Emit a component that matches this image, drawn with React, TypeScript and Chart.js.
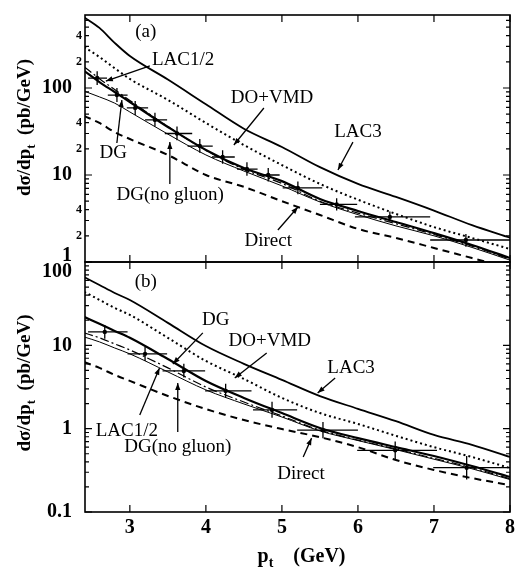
import React, { useEffect, useRef } from 'react';
import { Chart, registerables } from 'chart.js';

Chart.register(...registerables);

const SERIF = '"Liberation Serif", "Times New Roman", "DejaVu Serif", serif';

// ---------- shared x axis ----------
const X_MIN = 2.41;
const X_MAX = 8;
const xTickValues = [3, 4, 5, 6, 7, 8];
const xTickText = ['3', '4', '5', '6', '7', '8'];

// p_t grid at which the curves were read
const curveX = [2.4, 2.6, 2.8, 3.0, 3.5, 4.0, 4.5, 5.0, 5.5, 6.0, 6.5, 7.0, 7.5, 8.0];

// ---------- panel (a) ----------
const A_MIN = 1;
const A_MAX = 690;
const aLAC3 = [650, 490, 330, 233, 125, 65, 34, 21, 12.3, 7.9, 5.6, 3.9, 2.65, 1.9];
const aDOVMD = [296, 227, 169, 127, 73, 39.6, 22.1, 13.0, 7.9, 5.2, 3.57, 2.52, 1.89, 1.41];
const aDG = [157, 117, 90, 69, 35.6, 19.4, 12, 8.5, 5.3, 3.86, 2.88, 2.15, 1.57, 1.11];
const aLAC12 = [175, 128, 96, 72, 36, 19.2, 11.6, 8.0, 5.0, 3.65, 2.75, 2.07, 1.52, 1.08];
const aNoGluon = [92, 79, 67, 53, 29.5, 17, 11.1, 7.5, 4.9, 3.5, 2.6, 2.0, 1.47, 1.05];
const aDirect = [47.6, 39.6, 31.1, 25.9, 17, 10, 7.3, 5.0, 3.47, 2.4, 1.89, 1.45, 1.11, 0.85];

const aPtX = [2.57, 2.83, 3.07, 3.33, 3.62, 3.92, 4.22, 4.54, 4.82, 5.21, 5.72, 6.42, 7.42];
const aPtY = [130, 83, 59, 43, 30, 21.5, 16.1, 11.7, 10, 7.1, 4.6, 3.3, 1.79];
const aPtXLo = [2.45, 2.71, 2.96, 3.2, 3.46, 3.76, 4.08, 4.41, 4.71, 5.01, 5.5, 5.96, 6.95];
const aPtXHi = [2.7, 2.97, 3.24, 3.49, 3.82, 4.09, 4.38, 4.68, 4.97, 5.53, 5.99, 6.95, 8.0];
const aPtYLo = [108, 69, 49, 36, 25, 18, 13.5, 9.8, 8.4, 6.0, 3.9, 2.9, 1.5];
const aPtYHi = [156, 100, 71, 52, 36, 26, 19.3, 14, 12, 8.4, 5.4, 3.8, 2.1];

const aTickValues = [1, 2, 3, 4, 5, 6, 7, 8, 9, 10, 20, 30, 40, 50, 60, 70, 80, 90, 100, 200, 300, 400, 500, 600];
const aLabelValues = [1, 2, 4, 10, 20, 40, 100, 200, 400];
const aLabelText = ['1', '2', '4', '10', '2', '4', '100', '2', '4'];

const aNoteText = ['(a)', 'LAC1/2', 'DG', 'DG(no gluon)', 'DO+VMD', 'LAC3', 'Direct'];
const aNoteX = [3.21, 3.7, 2.78, 3.53, 4.87, 6.0, 4.82];
const aNoteY = [440, 210, 17.9, 5.9, 76.7, 31.2, 1.74];

const aArrowX1 = [3.263, 2.829, 3.526, 4.763, 5.934, 4.947];
const aArrowY1 = [179, 23.3, 7.88, 58.9, 23.9, 2.33];
const aArrowX2 = [2.684, 2.895, 3.526, 4.368, 5.737, 5.211];
const aArrowY2 = [120, 72.8, 23.9, 22.1, 11.4, 4.29];

// ---------- panel (b) ----------
const B_MIN = 0.1;
const B_MAX = 100;
const bLAC3 = [66, 53, 42.5, 35, 18.6, 9.8, 6.0, 3.85, 2.46, 1.73, 1.23, 0.84, 0.64, 0.457];
const bDOVMD = [43.8, 35.1, 28.1, 23.2, 12.3, 6.5, 3.95, 2.34, 1.54, 1.14, 0.82, 0.6, 0.457, 0.337];
const bDG = [21.9, 18.1, 14.9, 12.3, 6.85, 3.73, 2.34, 1.54, 1.02, 0.77, 0.6, 0.47, 0.356, 0.263];
const bLAC12 = [14.1, 12.3, 10.4, 8.8, 5.36, 3.16, 2.09, 1.42, 0.96, 0.73, 0.57, 0.44, 0.34, 0.25];
const bNoGluon = [12.6, 11, 9.3, 7.9, 4.8, 2.92, 1.98, 1.38, 0.94, 0.72, 0.56, 0.43, 0.33, 0.245];
const bDirect = [6.3, 5.36, 4.42, 3.74, 2.47, 1.72, 1.27, 0.99, 0.79, 0.6, 0.42, 0.32, 0.255, 0.21];

const bPtX = [2.67, 3.2, 3.71, 4.26, 4.87, 5.54, 6.49, 7.43];
const bPtY = [14.5, 7.9, 4.93, 2.84, 1.68, 0.96, 0.55, 0.34];
const bPtXLo = [2.45, 2.97, 3.43, 3.99, 4.62, 5.2, 5.99, 6.99];
const bPtXHi = [2.97, 3.49, 3.99, 4.6, 5.2, 6.0, 7.04, 8.0];
const bPtYLo = [12, 6.5, 4.1, 2.35, 1.35, 0.77, 0.43, 0.245];
const bPtYHi = [17.5, 9.6, 6.0, 3.45, 2.1, 1.2, 0.7, 0.47];

const bTickValues = [
  0.1, 0.2, 0.3, 0.4, 0.5, 0.6, 0.7, 0.8, 0.9,
  1, 2, 3, 4, 5, 6, 7, 8, 9,
  10, 20, 30, 40, 50, 60, 70, 80, 90, 100,
];
const bLabelValues = [0.1, 1, 10, 100];
const bLabelText = ['0.1', '1', '10', '100'];

const bNoteText = ['(b)', 'DG', 'DO+VMD', 'LAC3', 'LAC1/2', 'DG(no gluon)', 'Direct'];
const bNoteX = [3.21, 4.13, 4.84, 5.91, 2.96, 3.63, 5.25];
const bNoteY = [57.7, 20.2, 11.3, 5.36, 0.94, 0.6, 0.286];

const bArrowX1 = [3.96, 4.8, 5.7, 3.13, 3.63, 5.28];
const bArrowY1 = [14.1, 8.1, 4.06, 1.46, 0.91, 0.457];
const bArrowX2 = [3.566, 4.38, 5.47, 3.39, 3.63, 5.39];
const bArrowY2 = [5.98, 4.06, 2.68, 5.36, 3.54, 0.77];

// ---------- helpers ----------
const isPow10 = (v: number) => Math.abs(Math.log10(v) - Math.round(Math.log10(v))) < 1e-9;
const same = (a: number, b: number) => Math.abs(a - b) <= Math.abs(b) * 1e-9;

function drawRich(ctx: CanvasRenderingContext2D, parts: [string, boolean][], cx: number, baseY: number, size: number) {
  const main = `bold ${size}px ${SERIF}`;
  const sub = `bold ${Math.round(size * 0.68)}px ${SERIF}`;
  let w = 0;
  const ws = parts.map(([t, s]) => {
    ctx.font = s ? sub : main;
    const m = ctx.measureText(t).width;
    w += m;
    return m;
  });
  let x = cx - w / 2;
  ctx.textAlign = 'left';
  ctx.textBaseline = 'alphabetic';
  parts.forEach(([t, s], i) => {
    ctx.font = s ? sub : main;
    ctx.fillText(t, x, baseY + (s ? size * 0.25 : 0));
    x += ws[i];
  });
}

function drawArrow(ctx: CanvasRenderingContext2D, x1: number, y1: number, x2: number, y2: number) {
  ctx.beginPath();
  ctx.moveTo(x1, y1);
  ctx.lineTo(x2, y2);
  ctx.stroke();
  const a = Math.atan2(y2 - y1, x2 - x1);
  const L = 7;
  const W = 2.6;
  ctx.beginPath();
  ctx.moveTo(x2, y2);
  ctx.lineTo(x2 - L * Math.cos(a) + W * Math.sin(a), y2 - L * Math.sin(a) - W * Math.cos(a));
  ctx.lineTo(x2 - L * Math.cos(a) - W * Math.sin(a), y2 - L * Math.sin(a) + W * Math.cos(a));
  ctx.closePath();
  ctx.fill();
}

interface PanelSpec {
  yMin: number;
  yMax: number;
  tickValues: number[];
  labelValues: number[];
  labelText: string[];
  shiftUp?: number;
  shiftDown?: number;
  curves: { data: number[]; dash: number[]; width: number }[];
  ptX: number[];
  ptY: number[];
  ptXLo: number[];
  ptXHi: number[];
  ptYLo: number[];
  ptYHi: number[];
  noteText: string[];
  noteX: number[];
  noteY: number[];
  arX1: number[];
  arY1: number[];
  arX2: number[];
  arY2: number[];
  showX: boolean;
  padTop: number;
  padBottom: number;
  titleShift: number;
}

function buildChart(canvas: HTMLCanvasElement, spec: PanelSpec) {
  const decor = {
    id: 'decor',
    afterDatasetsDraw(chart: any) {
      const { ctx, chartArea: ca } = chart;
      const xs = chart.scales.x;
      const ys = chart.scales.y;
      ctx.save();
      ctx.beginPath();
      ctx.rect(ca.left, ca.top, ca.right - ca.left, ca.bottom - ca.top);
      ctx.clip();
      ctx.strokeStyle = '#000';
      ctx.lineWidth = 1.3;
      for (let i = 0; i < spec.ptX.length; i++) {
        const px = xs.getPixelForValue(spec.ptX[i]);
        const py = ys.getPixelForValue(spec.ptY[i]);
        ctx.beginPath();
        ctx.moveTo(xs.getPixelForValue(spec.ptXLo[i]), py);
        ctx.lineTo(xs.getPixelForValue(spec.ptXHi[i]), py);
        ctx.moveTo(px, ys.getPixelForValue(spec.ptYLo[i]));
        ctx.lineTo(px, ys.getPixelForValue(spec.ptYHi[i]));
        ctx.stroke();
      }
      ctx.restore();
    },
    afterDraw(chart: any) {
      const { ctx, chartArea: ca } = chart;
      const xs = chart.scales.x;
      const ys = chart.scales.y;
      ctx.save();
      ctx.strokeStyle = '#000';
      ctx.fillStyle = '#000';
      // frame
      ctx.lineWidth = 1.6;
      ctx.strokeRect(ca.left, ca.top, ca.right - ca.left, ca.bottom - ca.top);
      // inward tick marks on left / right
      ctx.lineWidth = 1.2;
      ctx.beginPath();
      for (const t of ys.ticks) {
        const py = ys.getPixelForValue(t.value);
        const len = isPow10(t.value) ? 7 : 4;
        ctx.moveTo(ca.left, py);
        ctx.lineTo(ca.left + len, py);
        ctx.moveTo(ca.right, py);
        ctx.lineTo(ca.right - len, py);
      }
      // inward ticks on top / bottom
      for (const t of xs.ticks) {
        const px = xs.getPixelForValue(t.value);
        ctx.moveTo(px, ca.top);
        ctx.lineTo(px, ca.top + 7);
        ctx.moveTo(px, ca.bottom);
        ctx.lineTo(px, ca.bottom - 7);
      }
      ctx.stroke();
      // annotations
      ctx.font = `19px ${SERIF}`;
      ctx.textAlign = 'center';
      ctx.textBaseline = 'middle';
      for (let i = 0; i < spec.noteText.length; i++) {
        ctx.fillText(spec.noteText[i], xs.getPixelForValue(spec.noteX[i]), ys.getPixelForValue(spec.noteY[i]));
      }
      ctx.lineWidth = 1.3;
      for (let i = 0; i < spec.arX1.length; i++) {
        drawArrow(
          ctx,
          xs.getPixelForValue(spec.arX1[i]),
          ys.getPixelForValue(spec.arY1[i]),
          xs.getPixelForValue(spec.arX2[i]),
          ys.getPixelForValue(spec.arY2[i]),
        );
      }
      // y axis title (rotated)
      const ty = (ca.top + ca.bottom) / 2 + spec.titleShift;
      ctx.save();
      ctx.translate(ca.left - 61, ty);
      ctx.rotate(-Math.PI / 2);
      drawRich(ctx, [['dσ/dp', false], ['t', true], ['  (pb/GeV)', false]], 0, 6, 19);
      ctx.restore();
      // x axis title
      if (spec.showX) {
        drawRich(ctx, [['p', false], ['t', true], ['    (GeV)', false]], (ca.left + ca.right) / 2 + 4, ca.bottom + 50, 20);
      }
      ctx.restore();
    },
  };

  const datasets: any[] = spec.curves.map((c) => ({
    data: curveX.map((x, i) => ({ x, y: c.data[i] })),
    borderColor: '#000',
    borderWidth: c.width,
    borderDash: c.dash,
    pointRadius: 0,
    fill: false,
    cubicInterpolationMode: 'monotone',
  }));
  datasets.push({
    data: spec.ptX.map((x, i) => ({ x, y: spec.ptY[i] })),
    showLine: false,
    pointRadius: 2.2,
    pointBackgroundColor: '#000',
    pointBorderColor: '#000',
    borderWidth: 0,
  });

  return new Chart(canvas, {
    type: 'line',
    data: { datasets },
    options: {
      animation: false,
      responsive: false,
      events: [],
      layout: { padding: { left: 0, right: 7, top: spec.padTop, bottom: spec.padBottom } },
      plugins: { legend: { display: false }, tooltip: { enabled: false } },
      scales: {
        x: {
          type: 'linear',
          min: X_MIN,
          max: X_MAX,
          display: spec.showX,
          grid: { display: false, drawTicks: false },
          border: { display: false },
          afterBuildTicks: (s: any) => {
            s.ticks = xTickValues.map((v) => ({ value: v }));
          },
          afterFit: (s: any) => {
            s.height = spec.showX ? 59 : 0;
            s.paddingLeft = 0;
            s.paddingRight = 0;
          },
          ticks: {
            autoSkip: false,
            maxRotation: 0,
            padding: 4,
            color: '#000',
            font: { family: SERIF, size: 20, weight: 'bold' },
            callback: (v: any) => {
              const i = xTickValues.findIndex((t) => same(Number(v), t));
              return i >= 0 ? xTickText[i] : '';
            },
          },
        },
        y: {
          type: 'logarithmic',
          min: spec.yMin,
          max: spec.yMax,
          grid: { display: false, drawTicks: false },
          border: { display: false },
          afterBuildTicks: (s: any) => {
            s.ticks = spec.tickValues.map((v) => ({ value: v, major: isPow10(v) }));
          },
          afterFit: (s: any) => {
            s.width = 85;
            s.paddingTop = 0;
            s.paddingBottom = 0;
          },
          ticks: {
            autoSkip: false,
            padding: 3,
            color: '#000',
            font: (c: any) => {
              const v = c.tick ? c.tick.value : 1;
              if (isPow10(v)) {
                let lh = 1.2;
                if (spec.shiftUp !== undefined && same(v, spec.shiftUp)) lh = 0.6;
                if (spec.shiftDown !== undefined && same(v, spec.shiftDown)) lh = 1.0;
                return { family: SERIF, size: 20, weight: 'bold', lineHeight: lh };
              }
              return { family: SERIF, size: 12, weight: 'bold', lineHeight: 1.2 };
            },
            callback: (v: any) => {
              const n = Number(v);
              const i = spec.labelValues.findIndex((t) => same(n, t));
              if (i < 0) return '';
              const txt = isPow10(n) ? spec.labelText[i] + '  ' : spec.labelText[i];
              if (spec.shiftUp !== undefined && same(n, spec.shiftUp)) return [txt, ''];
              if (spec.shiftDown !== undefined && same(n, spec.shiftDown)) return ['', txt];
              return txt;
            },
          },
        },
      },
    } as any,
    plugins: [decor],
  });
}

const panelA: PanelSpec = {
  yMin: A_MIN,
  yMax: A_MAX,
  tickValues: aTickValues,
  labelValues: aLabelValues,
  labelText: aLabelText,
  shiftUp: 1,
  curves: [
    { data: aLAC3, dash: [], width: 1.8 },
    { data: aDOVMD, dash: [2, 3], width: 2 },
    { data: aNoGluon, dash: [], width: 1 },
    { data: aLAC12, dash: [9, 3, 2, 3], width: 1.2 },
    { data: aDG, dash: [], width: 2.2 },
    { data: aDirect, dash: [7, 5], width: 2 },
  ],
  ptX: aPtX,
  ptY: aPtY,
  ptXLo: aPtXLo,
  ptXHi: aPtXHi,
  ptYLo: aPtYLo,
  ptYHi: aPtYHi,
  noteText: aNoteText,
  noteX: aNoteX,
  noteY: aNoteY,
  arX1: aArrowX1,
  arY1: aArrowY1,
  arX2: aArrowX2,
  arY2: aArrowY2,
  showX: false,
  padTop: 15,
  padBottom: 4,
  titleShift: -11,
};

const panelB: PanelSpec = {
  yMin: B_MIN,
  yMax: B_MAX,
  tickValues: bTickValues,
  labelValues: bLabelValues,
  labelText: bLabelText,
  shiftDown: 100,
  curves: [
    { data: bLAC3, dash: [], width: 1.8 },
    { data: bDOVMD, dash: [2, 3], width: 2 },
    { data: bNoGluon, dash: [], width: 1 },
    { data: bLAC12, dash: [9, 3, 2, 3], width: 1.2 },
    { data: bDG, dash: [], width: 2.2 },
    { data: bDirect, dash: [7, 5], width: 2 },
  ],
  ptX: bPtX,
  ptY: bPtY,
  ptXLo: bPtXLo,
  ptXHi: bPtXHi,
  ptYLo: bPtYLo,
  ptYHi: bPtYHi,
  noteText: bNoteText,
  noteX: bNoteX,
  noteY: bNoteY,
  arX1: bArrowX1,
  arY1: bArrowY1,
  arX2: bArrowX2,
  arY2: bArrowY2,
  showX: true,
  padTop: 4,
  padBottom: 0,
  titleShift: -4,
};

export default function App() {
  const refA = useRef<HTMLCanvasElement | null>(null);
  const refB = useRef<HTMLCanvasElement | null>(null);

  useEffect(() => {
    Chart.defaults.font.family = SERIF;
    Chart.defaults.color = '#000';
    const ca = refA.current ? buildChart(refA.current, panelA) : null;
    const cb = refB.current ? buildChart(refB.current, panelB) : null;
    return () => {
      if (ca) ca.destroy();
      if (cb) cb.destroy();
    };
  }, []);

  return (
    <div style={{ position: 'fixed', left: 0, top: 0, width: 517, height: 571, background: '#fff', overflow: 'hidden' }}>
      <canvas ref={refA} width={517} height={266} style={{ position: 'absolute', left: 0, top: 0, width: 517, height: 266 }} />
      <canvas ref={refB} width={517} height={313} style={{ position: 'absolute', left: 0, top: 258, width: 517, height: 313 }} />
    </div>
  );
}
